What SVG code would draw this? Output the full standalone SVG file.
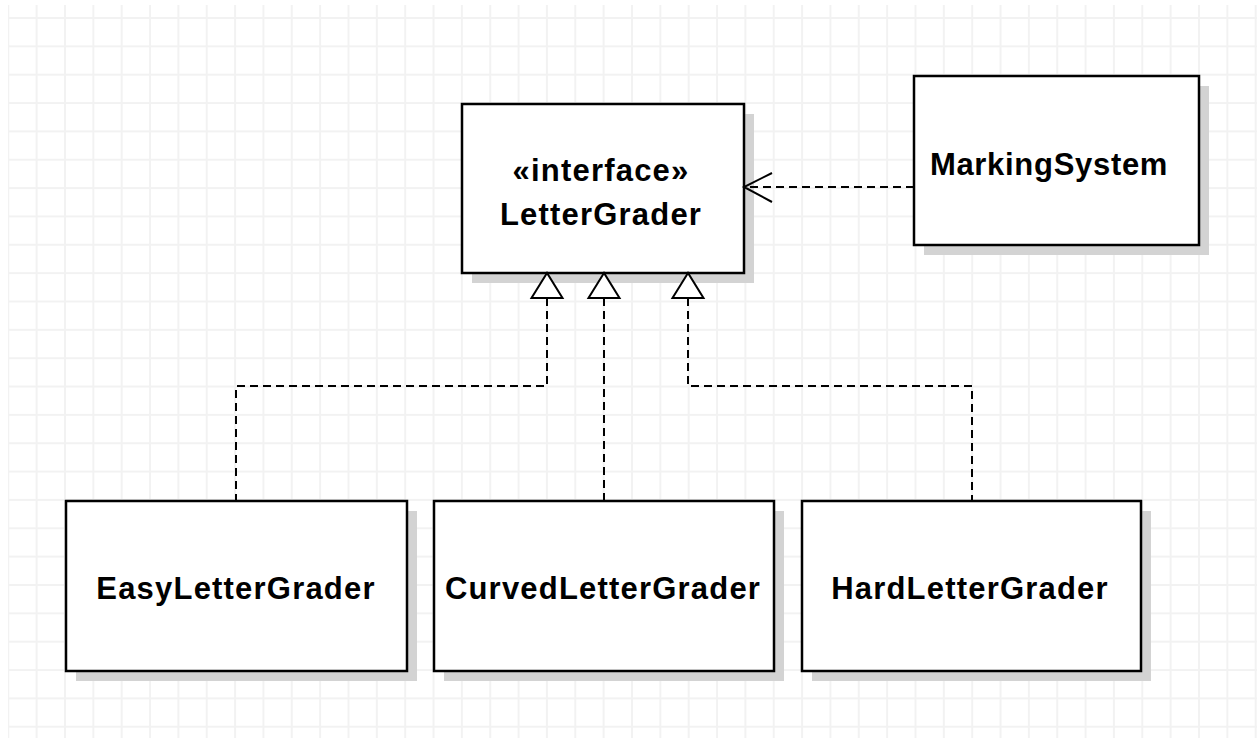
<svg xmlns="http://www.w3.org/2000/svg" width="1257" height="740" viewBox="0 0 1257 740">
  <defs>
    <pattern id="grid" patternUnits="userSpaceOnUse" x="7.3" y="17" width="28.35" height="28.35">
      <path d="M1,0 V28.35 M0,1 H28.35" stroke="#f2f2f2" stroke-width="2" fill="none"/>
    </pattern>
  </defs>
  <style>
    .shadow { fill: #d3d3d3; stroke: none; }
    .box { fill: #ffffff; stroke: #000000; stroke-width: 2.5; }
    .label { font-family: "Liberation Sans", Arial, sans-serif; font-weight: bold; font-size: 31px; letter-spacing: 1.2px; fill: #000000; text-anchor: middle; }
    .dash { fill: none; stroke: #000000; stroke-width: 2; stroke-dasharray: 8 5; }
    .head { fill: #ffffff; stroke: #000000; stroke-width: 2; }
    .open { fill: none; stroke: #000000; stroke-width: 2; }
  </style>
  <rect x="0" y="0" width="1257" height="740" fill="#ffffff"/>
  <rect x="8" y="5" width="1249" height="733" fill="url(#grid)"/>

  <g id="LetterGrader">
    <rect class="shadow" x="472" y="114" width="282" height="169"/>
    <rect class="box" x="462" y="104" width="282" height="169"/>
    <text class="label" x="601" y="181">«interface»</text>
    <text class="label" x="601" y="225">LetterGrader</text>
  </g>

  <g id="MarkingSystem">
    <rect class="shadow" x="924" y="86" width="285" height="169"/>
    <rect class="box" x="914" y="76" width="285" height="169"/>
    <text class="label" x="1049" y="175" style="letter-spacing:0.7px">MarkingSystem</text>
  </g>

  <g id="EasyLetterGrader">
    <rect class="shadow" x="76" y="511" width="341" height="170"/>
    <rect class="box" x="66" y="501" width="341" height="170"/>
    <text class="label" x="236" y="599">EasyLetterGrader</text>
  </g>

  <g id="CurvedLetterGrader">
    <rect class="shadow" x="444" y="511" width="340" height="170"/>
    <rect class="box" x="434" y="501" width="340" height="170"/>
    <text class="label" x="603" y="599">CurvedLetterGrader</text>
  </g>

  <g id="HardLetterGrader">
    <rect class="shadow" x="812" y="511" width="339" height="170"/>
    <rect class="box" x="802" y="501" width="339" height="170"/>
    <text class="label" x="970" y="599">HardLetterGrader</text>
  </g>

  <g id="connectors">
    <path class="dash" d="M914,187 H746"/>
    <path class="open" d="M772,173 L744,187 L772,202"/>
    <path class="dash" d="M547,298 V386 H236 V501"/>
    <path class="dash" d="M604,298 V501"/>
    <path class="dash" d="M688,298 V386 H972 V501"/>
    <path class="head" d="M547,273 L531.5,298 L562.5,298 Z"/>
    <path class="head" d="M604,273 L588.5,298 L619.5,298 Z"/>
    <path class="head" d="M688,273 L672.5,298 L703.5,298 Z"/>
  </g>
</svg>
